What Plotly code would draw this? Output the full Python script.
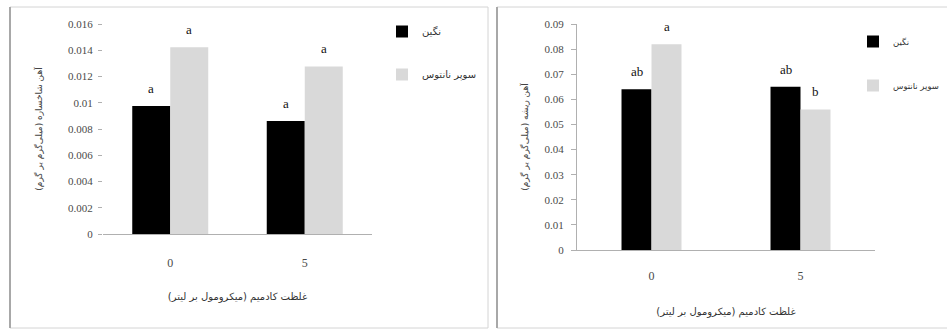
import plotly.graph_objects as go

# ---- data ----
categories = ["0", "5"]
series_names = ["نگین", "سوپر نانتوس"]

shoot_fe_negin = [0.00975, 0.00861]
shoot_fe_super = [0.01422, 0.01277]
shoot_letters_negin = ["a", "a"]
shoot_letters_super = ["a", "a"]

root_fe_negin = [0.0640, 0.0650]
root_fe_super = [0.0819, 0.0560]
root_letters_negin = ["ab", "ab"]
root_letters_super = ["a", "b"]

shoot_tickvals = [0, 0.002, 0.004, 0.006, 0.008, 0.01, 0.012, 0.014, 0.016]
shoot_ticktext = ["0", "0.002", "0.004", "0.006", "0.008", "0.01", "0.012", "0.014", "0.016"]
root_tickvals = [0, 0.01, 0.02, 0.03, 0.04, 0.05, 0.06, 0.07, 0.08, 0.09]
root_ticktext = ["0", "0.01", "0.02", "0.03", "0.04", "0.05", "0.06", "0.07", "0.08", "0.09"]

x_title = "غلظت کادمیم (میکرومول بر لیتر)"
shoot_y_title = "آهن شاخساره (میلی‌گرم بر گرم)"
root_y_title = "آهن ریشه (میلی‌گرم بر گرم)"

# ---- styling ----
W, H = 947, 329
BLACK, GREY = "#000000", "#d9d9d9"
SERIF = "Liberation Serif"
FA = "DejaVu Sans"
TICK_COLOR = "#4a4a4a"


def px(x):
    return x / W


def py(y):
    return 1 - y / H


fig = go.Figure()

panels = [
    dict(xa="x", ya="y", legend="legend", width=0.2825,
         vals=(shoot_fe_negin, shoot_fe_super),
         letters=(shoot_letters_negin, shoot_letters_super)),
    dict(xa="x2", ya="y2", legend="legend2", width=0.2013,
         vals=(root_fe_negin, root_fe_super),
         letters=(root_letters_negin, root_letters_super)),
]

annotations = []
for p in panels:
    w = p["width"]
    offsets = (-w, 0.0)
    for k, (name, color) in enumerate(zip(series_names, (BLACK, GREY))):
        fig.add_trace(go.Bar(
            x=categories, y=p["vals"][k], name=name,
            marker=dict(color=color, line=dict(width=0)),
            width=w, offset=offsets[k],
            xaxis=p["xa"], yaxis=p["ya"],
            legend=p["legend"], legendgroup=p["legend"] + str(k),
        ))
        for i, (v, lab) in enumerate(zip(p["vals"][k], p["letters"][k])):
            annotations.append(dict(
                x=i + offsets[k] + w / 2, y=v, xref=p["xa"], yref=p["ya"],
                text=lab, showarrow=False, yanchor="bottom", yshift=8,
                font=dict(family=SERIF, size=13, color="#111111"),
            ))

fig.update_layout(
    width=W, height=H,
    margin=dict(l=0, r=0, t=0, b=0, autoexpand=False),
    paper_bgcolor="white", plot_bgcolor="white",
    barmode="overlay",
    annotations=annotations,
    legend=dict(x=px(382), y=py(17), xanchor="left", yanchor="top",
                tracegroupgap=24, bgcolor="rgba(0,0,0,0)",
                font=dict(family=FA, size=10, color="#333333")),
    legend2=dict(x=px(853), y=py(27), xanchor="left", yanchor="top",
                 tracegroupgap=25, bgcolor="rgba(0,0,0,0)",
                 font=dict(family=FA, size=8.5, color="#333333")),
    xaxis=dict(domain=[px(103), px(372)], type="category", range=[-0.5, 1.5],
               showline=True, linecolor="#b0b0b0", linewidth=1,
               ticks="", ticklabelstandoff=18, automargin=False,
               tickfont=dict(family=SERIF, size=12, color=TICK_COLOR),
               title=dict(text=x_title, standoff=23,
                          font=dict(family=FA, size=10, color="#333333")),
               anchor="y", fixedrange=True),
    yaxis=dict(domain=[py(234), py(24)], range=[0, 0.016],
               tickvals=shoot_tickvals, ticktext=shoot_ticktext,
               showline=False, showgrid=False, zeroline=False,
               ticks="outside", ticklen=4, tickcolor="#b0b0b0",
               ticklabelstandoff=3, automargin=False,
               tickfont=dict(family=SERIF, size=11, color=TICK_COLOR),
               title=dict(text=shoot_y_title, standoff=23,
                          font=dict(family=FA, size=9, color="#444444")),
               anchor="x", fixedrange=True),
    xaxis2=dict(domain=[px(577), px(875)], type="category", range=[-0.5, 1.5],
                showline=True, linecolor="#b0b0b0", linewidth=1,
                ticks="", ticklabelstandoff=15, automargin=False,
                tickfont=dict(family=SERIF, size=12, color=TICK_COLOR),
                title=dict(text=x_title, standoff=25,
                           font=dict(family=FA, size=10, color="#333333")),
                anchor="y2", fixedrange=True),
    yaxis2=dict(domain=[py(250), py(24)], range=[0, 0.09],
                tickvals=root_tickvals, ticktext=root_ticktext,
                showline=True, linecolor="#b0b0b0", linewidth=1,
                showgrid=False, zeroline=False,
                ticks="outside", ticklen=5, tickcolor="#b0b0b0",
                ticklabelstandoff=5, automargin=False,
                tickfont=dict(family=SERIF, size=11, color=TICK_COLOR),
                title=dict(text=root_y_title, standoff=14,
                           font=dict(family=FA, size=9, color="#444444")),
                anchor="x2", fixedrange=True),
)

# panel frames
for x0, x1 in ((10, 488), (497, 960)):
    fig.add_shape(type="rect", xref="paper", yref="paper",
                  x0=px(x0), x1=px(x1), y0=py(328), y1=py(7),
                  line=dict(color="#d4d4d4", width=1), layer="below")
    fig.add_shape(type="line", xref="paper", yref="paper",
                  x0=px(x0), x1=px(x0), y0=py(328), y1=py(7),
                  line=dict(color="#a8a8a8", width=2), layer="below")

fig.write_html("out.html")
